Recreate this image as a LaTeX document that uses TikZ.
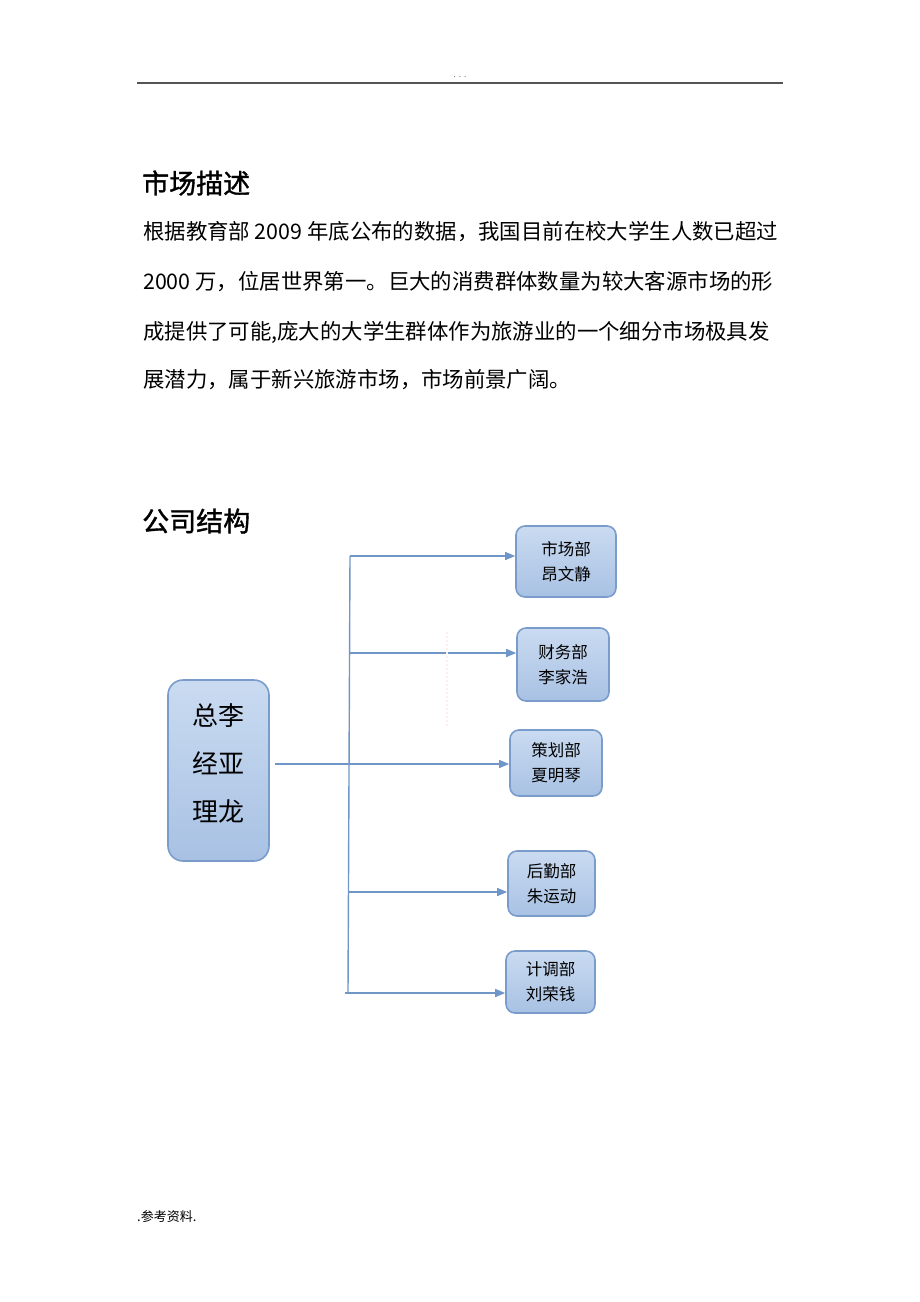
\documentclass[tikz,border=0pt]{standalone}
\usepackage{fontspec}
\setmainfont{Liberation Serif}
\newfontfamily\cjk{Noto Sans CJK SC}
\newfontfamily\cjkhead[FakeBold=1.3]{Noto Sans CJK SC}
\usetikzlibrary{arrows.meta,positioning,calc}
\definecolor{boxtop}{HTML}{CADBF1}
\definecolor{boxbot}{HTML}{A8C1E3}
\definecolor{boxline}{HTML}{7A9CCB}
\definecolor{linkblue}{HTML}{7096C8}
\definecolor{rulegray}{HTML}{555555}
\tikzset{
    deptbox/.style 2 args={draw=boxline, line width=1.6pt, rounded corners=9pt,
        top color=boxtop, bottom color=boxbot, minimum width=#1, minimum height=#2,
        inner sep=0pt, align=center, font=\cjk\fontsize{16.5}{25}\selectfont},
    bosbox/.style={deptbox={101pt}{181pt}, rounded corners=15pt},
    bostext/.style={inner sep=0pt, align=center, font=\cjk\fontsize{26}{48}\selectfont},
    link/.style={draw=linkblue, line width=1.4pt},
    linkarrow/.style={link, -{Triangle[length=10pt,width=8pt]}},
    bodyline/.style={anchor=west, inner sep=0pt, font=\cjk\fontsize{21.4}{24}\selectfont},
    headline/.style={anchor=west, inner sep=0pt, font=\cjkhead\fontsize{27}{30}\selectfont}
}
\begin{document}
\begin{tikzpicture}[x=1pt, y=-1pt]
    \useasboundingbox (0,0) rectangle (920,1302);
    % page header and footer
    \node[inner sep=0pt, text=rulegray, font=\fontsize{9}{10}\selectfont] (hdr) at (460,77) {. . .};
    \coordinate (hl) at (137,83);
    \coordinate (hr) at (783,83);
    \draw[rulegray, line width=1.2pt] (hl) -- (hr);
    \node[anchor=west, inner sep=0pt, font=\cjk\fontsize{13}{15}\selectfont] (ftr) at (137,1217) {.参考资料.};
    % text part
    \node[headline] (h1) at (142,183) {市场描述};
    \node[bodyline] (l1) at (143,232) {根据教育部 2009 年底公布的数据，我国目前在校大学生人数已超过};
    \node[bodyline] (l2) at (143,282) {2000 万，位居世界第一。巨大的消费群体数量为较大客源市场的形};
    \node[bodyline] (l3) at (143,332) {成提供了可能,庞大的大学生群体作为旅游业的一个细分市场极具发};
    \node[bodyline] (l4) at (143,380) {展潜力，属于新兴旅游市场，市场前景广阔。};
    \node[headline] (h2) at (142,521) {公司结构};
    % chart
    \node[bosbox] (boss) at (218.5,770.5) {};
    \node[bostext] (bosslbl) at (218.5,763) {总李\\经亚\\理龙};
    \node[deptbox={100pt}{71pt}] (d1) at (566,561.5) {市场部\\昂文静};
    \node[deptbox={92pt}{73pt}] (d2) at (563,664.5) {财务部\\李家浩};
    \node[deptbox={92pt}{66pt}] (d3) at (556,763) {策划部\\夏明琴};
    \node[deptbox={87pt}{65pt}] (d4) at (551.5,883.5) {后勤部\\朱运动};
    \node[deptbox={89pt}{62pt}] (d5) at (550.5,982) {计调部\\刘荣钱};
    \coordinate (ttop) at (350,556);
    \coordinate (tbot) at (348,993);
    \coordinate (b2) at (350,653);
    \coordinate (m) at (275,764);
    \coordinate (b4) at (349,892);
    \coordinate (b5) at (345,993);
    \draw[link] (ttop) -- (tbot);
    \draw[linkarrow] (ttop) -- (ttop -| d1.west);
    \draw[linkarrow] (b2) -- (b2 -| d2.west);
    \draw[linkarrow] (m) -- (m -| d3.west);
    \draw[linkarrow] (b4) -- (b4 -| d4.west);
    \draw[linkarrow] (b5) -- (b5 -| d5.west);
    \draw[pink!30, line width=2pt, dotted] (447,632) -- (447,728);
\end{tikzpicture}
\end{document}
